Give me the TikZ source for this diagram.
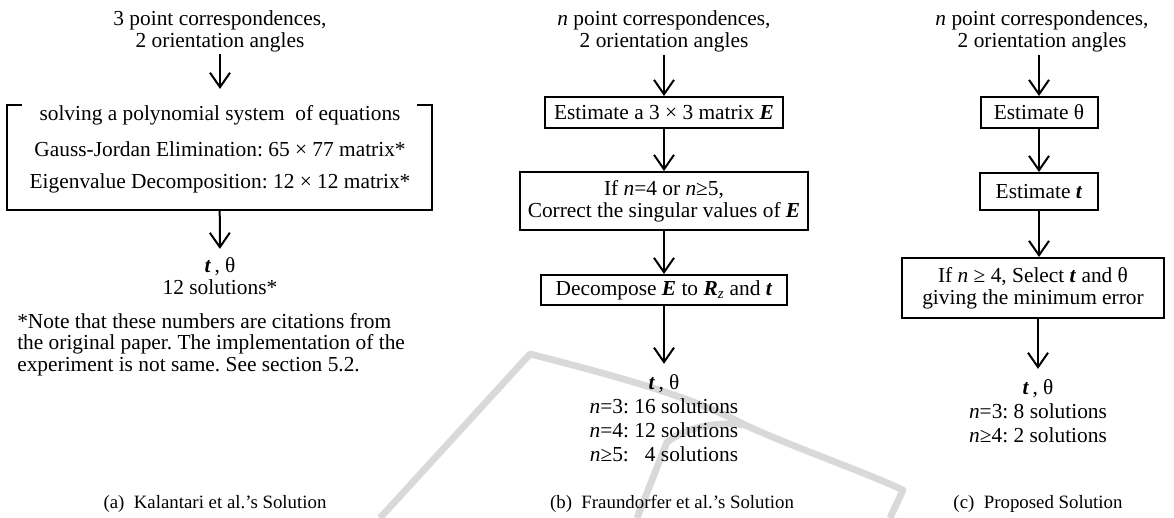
\documentclass[tikz,border=0pt]{standalone}
\usepackage{fontspec}
\setmainfont{Liberation Serif}
\usetikzlibrary{arrows.meta}
\frenchspacing

\newlength\pxu
\setlength\pxu{0.025cm}
\newcommand\figfont{\fontsize{15.2}{15.6}\selectfont}
\newcommand\outfont{\fontsize{15.2}{17.2}\selectfont}
\newcommand\capfont{\fontsize{13.4}{15}\selectfont}
\newcommand\vt{\textbf{\textit{t}}}
\newcommand\vE{\textbf{\textit{E}}}
\newcommand\vR{\textbf{\textit{R}}}

\begin{document}
\begin{tikzpicture}[x=0.025cm, y=-0.025cm]

% --- styles ---
\tikzset{
    flow/.style={-{Straight Barb[length=0.36cm, width=0.5cm]}, line width=0.05cm},
    stepbox/.style={draw, line width=0.05cm, inner sep=0pt, align=center, font=\figfont},
    txt/.style={align=center, font=\figfont, inner sep=0pt},
    outtxt/.style={align=center, font=\outfont, inner sep=0pt},
    captxt/.style={font=\capfont, inner sep=0pt},
    wmark/.style={draw=black!15, line width=0.17cm, line join=round}
}

\useasboundingbox (0,0) rectangle (1174,518);

% watermark behind everything
\draw[wmark] (380,518) -- (530,354)
    .. controls (600,372) and (690,395) .. (745,425)
    .. controls (800,450) and (860,470) .. (903,490) -- (890,518);
\draw[wmark] (637,518) -- (667,442) .. controls (690,425) and (720,422) .. (745,425);

% --- (a) Kalantari ---
\node[txt] (inA) at (220,31) {3 point correspondences,\\2 orientation angles};
\node[minimum width=10.625cm, minimum height=2.625cm, inner sep=0pt] (solveA) at (219.5,157.5) {};
\draw[line width=0.05cm] ([xshift=0.375cm]solveA.north west) -- (solveA.north west)
    -- (solveA.south west) -- (solveA.south east) -- (solveA.north east)
    -- ([xshift=-0.375cm]solveA.north east);
\node[txt] (lineA1) at (220,115) {solving a polynomial system~ of equations};
\node[txt] (lineA2) at (220,149) {Gauss-Jordan Elimination: 65 × 77 matrix*};
\node[txt] (lineA3) at (220,183) {Eigenvalue Decomposition: 12 × 12 matrix*};
\node[txt, font=\fontsize{15.2}{16}\selectfont] (outA) at (220,276) {\vt\,, θ\\12 solutions*};
\node[txt, align=left, anchor=north west, font=\fontsize{15.2}{15.3}\selectfont] (noteA) at (17,313)
    {*Note that these numbers are citations from\\the original paper. The implementation of the\\experiment is not same. See section 5.2.};
\node[captxt] (capA) at (215,504) {(a)\ \ Kalantari et al.'s Solution};

\draw[flow, shorten <=0.05cm, shorten >=0.4cm] (inA) -- (lineA1);
\draw[flow, shorten >=0.2cm] (solveA) -- (outA);

% --- (b) Fraundorfer ---
\node[txt] (inB) at (664,31) {\textit{n} point correspondences,\\2 orientation angles};
\node[stepbox, minimum width=5.925cm, minimum height=0.775cm] (estE) at (664,112.5) {Estimate a 3 × 3 matrix \vE};
\node[stepbox, minimum width=7.175cm, minimum height=1.45cm] (corrE) at (664,201)
    {If \textit{n}=4 or \textit{n}≥5,\\Correct the singular values of \vE};
\node[stepbox, minimum width=6.15cm, minimum height=0.75cm] (decE) at (664,290)
    {Decompose \vE{} to \vR\textsubscript{\textit{z}} and \vt};
\node[outtxt] (outB) at (664,418) {\vt\,, θ\\\textit{n}=3: 16 solutions\\\textit{n}=4: 12 solutions\\\textit{n}≥5: \phantom{1}4 solutions};
\node[captxt] (capB) at (672,504) {(b)\ \ Fraundorfer et al.'s Solution};

\draw[flow, shorten <=0.075cm] (inB) -- (estE);
\draw[flow] (estE) -- (corrE);
\draw[flow] (corrE) -- (decE);
\draw[flow, shorten >=0.25cm] (decE) -- (outB);

% --- (c) proposed ---
\node[txt] (inC) at (1042,31) {\textit{n} point correspondences,\\2 orientation angles};
\node[stepbox, minimum width=2.925cm, minimum height=0.775cm] (estTh) at (1039,112.5) {Estimate θ};
\node[stepbox, minimum width=2.95cm, minimum height=0.925cm] (estT) at (1039,191.5) {Estimate \vt};
\node[stepbox, minimum width=6.525cm, minimum height=1.5cm] (selTh) at (1033,288)
    {If \textit{n} ≥ 4, Select \vt{} and θ\\giving the minimum error};
\node[outtxt] (outC) at (1038,411) {\vt\,, θ\\\textit{n}=3: 8 solutions\\\textit{n}≥4: 2 solutions};
\node[captxt] (capC) at (1038,504) {(c)\ \ Proposed Solution};

\draw[flow, shorten <=0.075cm] (inC.south -| estTh.north) -- (estTh);
\draw[flow] (estTh) -- (estT);
\draw[flow] (estT) -- (selTh.north -| estT.south);
\draw[flow, shorten >=0.25cm] (selTh.south -| outC.north) -- (outC);

\end{tikzpicture}
\end{document}
